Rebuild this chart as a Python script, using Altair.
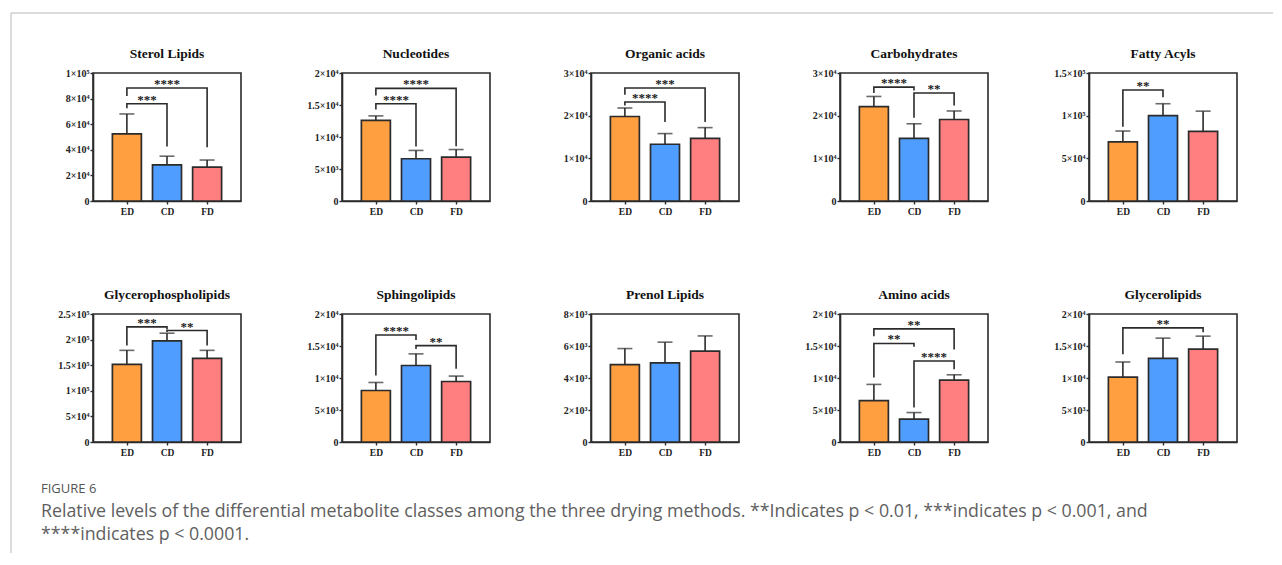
import altair as alt
import pandas as pd

# ---------------- data ----------------
categories = ["ED", "CD", "FD"]
bar_colors = ["#FF9F3F", "#4F9EFF", "#FF7E80"]

titles = ["Sterol Lipids", "Nucleotides", "Organic acids", "Carbohydrates", "Fatty Acyls",
          "Glycerophospholipids", "Sphingolipids", "Prenol Lipids", "Amino acids", "Glycerolipids"]

means = [
    [52500, 28200, 26400],
    [12600, 6600, 6860],
    [19800, 13300, 14700],
    [22100, 14700, 19100],
    [69200, 100000, 81600],
    [151800, 197700, 163400],
    [8050, 11950, 9450],
    [4840, 4950, 5680],
    [6460, 3570, 9660],
    [10130, 13070, 14520],
]
err_tops = [
    [68000, 35000, 32000],
    [13300, 7900, 8040],
    [21800, 15800, 17200],
    [24500, 18100, 21100],
    [82000, 114000, 105300],
    [179000, 212500, 179000],
    [9300, 13770, 10300],
    [5840, 6240, 6630],
    [9000, 4600, 10500],
    [12500, 16230, 16540],
]
y_max = [100000, 20000, 30000, 30000, 150000, 250000, 20000, 8000, 20000, 20000]
y_ticks = [
    [0, 20000, 40000, 60000, 80000, 100000],
    [0, 5000, 10000, 15000, 20000],
    [0, 10000, 20000, 30000],
    [0, 10000, 20000, 30000],
    [0, 50000, 100000, 150000],
    [0, 50000, 100000, 150000, 200000, 250000],
    [0, 5000, 10000, 15000, 20000],
    [0, 2000, 4000, 6000, 8000],
    [0, 5000, 10000, 15000, 20000],
    [0, 5000, 10000, 15000, 20000],
]
y_tick_labels = [
    ["0", "2×10⁴", "4×10⁴", "6×10⁴", "8×10⁴", "1×10⁵"],
    ["0", "5×10³", "1×10⁴", "1.5×10⁴", "2×10⁴"],
    ["0", "1×10⁴", "2×10⁴", "3×10⁴"],
    ["0", "1×10⁴", "2×10⁴", "3×10⁴"],
    ["0", "5×10⁴", "1×10⁵", "1.5×10⁵"],
    ["0", "5×10⁴", "1×10⁵", "1.5×10⁵", "2×10⁵", "2.5×10⁵"],
    ["0", "5×10³", "1×10⁴", "1.5×10⁴", "2×10⁴"],
    ["0", "2×10³", "4×10³", "6×10³", "8×10³"],
    ["0", "5×10³", "1×10⁴", "1.5×10⁴", "2×10⁴"],
    ["0", "5×10³", "1×10⁴", "1.5×10⁴", "2×10⁴"],
]
# significance brackets: (left group, right group, bracket level, left leg end, right leg end, stars)
brackets = [
    [(0, 1, 76000, 72500, 42500, "***"), (0, 2, 88300, 82000, 42000, "****")],
    [(0, 1, 15200, 14300, 8500, "****"), (0, 2, 17600, 16500, 8560, "****")],
    [(0, 1, 23200, 22400, 18500, "****"), (0, 2, 26500, 24900, 18500, "***")],
    [(0, 1, 26700, 25300, 25900, "****"), (1, 2, 25300, 19500, 22400, "**")],
    [(0, 1, 130000, 87000, 121600, "**")],
    [(0, 1, 224800, 188600, 219600, "***"), (1, 2, 217700, 215000, 188600, "**")],
    [(0, 1, 16730, 10400, 15950, "****"), (1, 2, 15060, 14550, 11430, "**")],
    [],
    [(0, 2, 17670, 16540, 14470, "**"), (0, 1, 15400, 10080, 14880, "**"), (1, 2, 12660, 5400, 11370, "****")],
    [(0, 2, 17830, 13700, 17160, "**")],
]

caption_head = "FIGURE 6"
caption_lines = [
    "Relative levels of the differential metabolite classes among the three drying methods. **Indicates p < 0.01, ***indicates p < 0.001, and",
    "****indicates p < 0.0001.",
]

# ---------------- styling ----------------
SERIF = "Liberation Serif"
INK = "#2b2b2b"
PW, PH = 148, 128


def label_expr(vals, labs):
    expr = "''"
    for v, l in reversed(list(zip(vals, labs))):
        expr = f"datum.value == {v} ? '{l}' : ({expr})"
    return expr


x_label_expr = "[" + ",".join(f"'{c}'" for c in categories) + "][datum.value]"


def make_panel(i):
    df = pd.DataFrame({"group": categories, "idx": list(range(len(categories))),
                       "mean": means[i], "err": err_tops[i]})
    xs = alt.Scale(domain=[-0.72, 2.72], nice=False, zero=False)
    ys = alt.Scale(domain=[0, y_max[i]], nice=False, zero=True)
    x_axis = alt.Axis(values=[0, 1, 2], labelExpr=x_label_expr, grid=False,
                      labelFontSize=9.5, tickSize=3, labelPadding=2, labelOverlap=False)
    y_axis = alt.Axis(values=y_ticks[i], labelExpr=label_expr(y_ticks[i], y_tick_labels[i]),
                      grid=False, labelFontSize=10, tickSize=3, labelPadding=1,
                      labelOverlap=False, labelBound=False, labelFlush=False)

    def X(f):
        return alt.X(f, scale=xs, axis=x_axis, title=None)

    def Y(f):
        return alt.Y(f, scale=ys, axis=y_axis, title=None)

    bars = alt.Chart(df).mark_bar(size=29, stroke=INK, strokeWidth=1.7).encode(
        x=X("idx:Q"), y=Y("mean:Q"),
        color=alt.Color("group:N", scale=alt.Scale(domain=categories, range=bar_colors), legend=None),
    )
    ebars = alt.Chart(df).mark_rule(color=INK, strokeWidth=1.6).encode(
        x=X("idx:Q"), y=Y("mean:Q"), y2="err:Q")
    caps = alt.Chart(df).mark_tick(orient="horizontal", size=15, thickness=1.6, color=INK).encode(
        x=X("idx:Q"), y=Y("err:Q"))
    layers = [bars, ebars, caps]

    if brackets[i]:
        rows, trows = [], []
        for b, (g1, g2, yb, l1, l2, lab) in enumerate(brackets[i]):
            for k, (bx, by) in enumerate([(g1, l1), (g1, yb), (g2, yb), (g2, l2)]):
                rows.append({"bid": b, "ord": k, "bx": bx, "by": by})
            trows.append({"mx": (g1 + g2) / 2, "my": yb, "lab": lab})
        ldf = pd.DataFrame(rows)
        tdf = pd.DataFrame(trows)
        lines = alt.Chart(ldf).mark_line(color=INK, strokeWidth=1.6, strokeJoin="miter").encode(
            x=X("bx:Q"), y=Y("by:Q"), detail="bid:N", order="ord:Q")
        stars = alt.Chart(tdf).mark_text(font=SERIF, fontWeight="bold", fontSize=13, color="#1a1a1a",
                                         baseline="alphabetic", dy=0).encode(
            x=X("mx:Q"), y=Y("my:Q"), text="lab:N")
        layers += [lines, stars]

    return alt.layer(*layers).properties(
        width=PW, height=PH,
        title=alt.TitleParams(titles[i], font=SERIF, fontWeight="bold", fontSize=13.5,
                              color="#111111", offset=8, anchor="middle", frame="group"),
    )


panels = [make_panel(i) for i in range(len(titles))]

# Frame lines and the figure caption live in an untitled cell below the grid
# (cell origin on the page: x = 92, y = 554).
one = pd.DataFrame({"a": [0]})
deco = [
    alt.Chart(one).mark_rule(color="#cfcfcf", strokeWidth=1.5).encode(
        x=alt.value(-82), y=alt.value(-542), y2=alt.value(-2)),
    alt.Chart(one).mark_rule(color="#cfcfcf", strokeWidth=1.5).encode(
        x=alt.value(-82), x2=alt.value(1180), y=alt.value(-542)),
    alt.Chart(one).mark_text(font="Open Sans", fontSize=13, color="#555555",
                             align="left", baseline="middle").encode(
        x=alt.value(-52), y=alt.value(-66), text=alt.value(caption_head)),
]
for j, line in enumerate(caption_lines):
    deco.append(alt.Chart(one).mark_text(font="Open Sans", fontSize=17.8, color="#606060",
                                         align="left", baseline="middle").encode(
        x=alt.value(-52), y=alt.value(-43 + 23 * j), text=alt.value(line)))
caption_cell = alt.layer(*deco).properties(
    width=1, height=1, view=alt.ViewBackground(strokeOpacity=0))

chart = alt.concat(
    *panels, caption_cell, columns=5, bounds="flush", spacing={"row": 113, "column": 101}
).properties(
    padding={"left": 2, "top": 4, "right": 0, "bottom": 0}
).configure_view(
    stroke=INK, strokeWidth=1.6
).configure_axis(
    labelFont=SERIF, labelFontWeight="bold", labelColor="#222222",
    domainColor=INK, domainWidth=1.6, tickColor=INK, tickWidth=1.4,
)

chart.save("out.html", embed_options={"renderer": "svg", "actions": False})
